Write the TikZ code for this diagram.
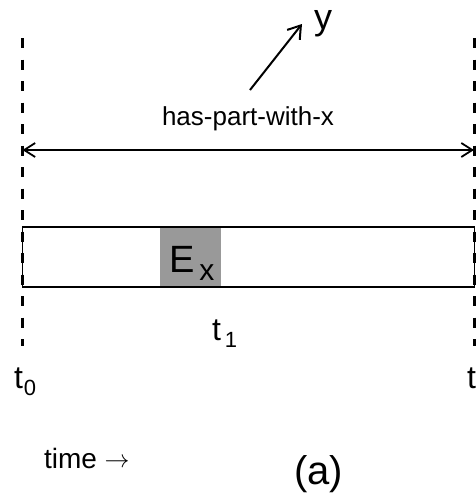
\documentclass[tikz,border=0pt]{standalone}
\usepackage{fontspec}
\setmainfont{Liberation Sans}
\usetikzlibrary{arrows.meta}
\tikzset{
  lbl/.style={inner sep=0pt, outer sep=0pt, text=black},
  guide/.style={line width=2.6pt, dash pattern=on 10pt off 11.5pt, dash phase=-1pt},
  bar/.style={line width=1.8pt},
  conn/.style={line width=1.8pt, {Straight Barb[length=11pt,width=14pt]}-{Straight Barb[length=11pt,width=14pt]}},
  oneway/.style={line width=2pt, -{Straight Barb[length=12pt,width=16pt]}}
}
\newcommand{\fs}[1]{\fontsize{#1}{#1}\selectfont}
\begin{document}
\begin{tikzpicture}[x=1pt,y=-1pt]
\useasboundingbox (0,0) rectangle (476,496);
% dashed time boundaries
\coordinate (lt) at (22.5,37);
\coordinate (lb) at (22.5,346);
\coordinate (rt) at (474.5,37);
\coordinate (rb) at (474.5,346);
\draw[guide] (lt) -- (lb);
\draw[guide] (rt) -- (rb);
% gray event box
\fill[fill={rgb,255:red,153;green,153;blue,153}] (160,228) rectangle (221,286);
% interval bar
\draw[bar] (22.5,227) rectangle (474.5,287);
% double arrow
\coordinate (al) at (22.5,150);
\coordinate (ar) at (474,150);
\draw[conn] (al) -- (ar);
% labels
\node[lbl, anchor=base] (hp) at (248,125) {\fs{26}has-part-with-x};
\node[lbl, anchor=base west] (y) at (314,29) {\fs{36}y};
\coordinate (ys) at (250,90);
\coordinate (ye) at (302,24);
\draw[oneway] (ys) -- (ye);
\node[lbl, anchor=base west] (ex) at (169,272) {\fs{38}E\hspace{5pt}\raisebox{-8pt}{\fs{30}x}};
\node[lbl, anchor=base west] (t1) at (212,340) {\fs{32}t\hspace{4pt}\raisebox{-7pt}{\fs{22}1}};
\node[lbl, anchor=base west] (t0) at (14,388) {\fs{32}t\hspace{1pt}\raisebox{-7pt}{\fs{22}0}};
\node[lbl, anchor=base west] (t2) at (467,388) {\fs{32}t};
\node[lbl, anchor=base west] (time) at (44,468) {\fs{28}time \raisebox{1pt}{\fs{36}$\rightarrow$}};
\node[lbl, anchor=base] (a) at (318.5,484) {\fs{40}(a)};
\end{tikzpicture}
\end{document}
